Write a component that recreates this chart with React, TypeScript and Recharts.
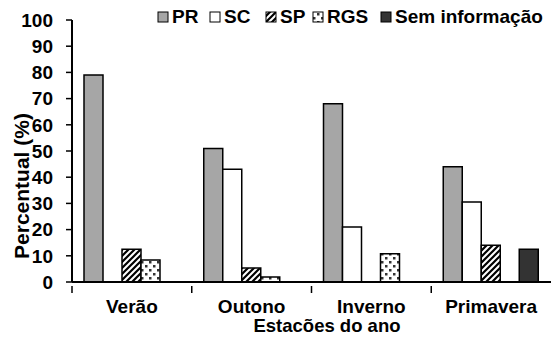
import React from "react";
import { Bar, BarChart, XAxis, YAxis } from "recharts";

const seasons = ["Verão", "Outono", "Inverno", "Primavera"];
const pr = [79, 51, 68, 44];
const sc = [0, 43, 21, 30.5];
const sp = [12.5, 5.3, 0, 14];
const rgs = [8.4, 1.9, 10.8, 0];
const semInfo = [0, 0, 0, 12.5];
const yTicks = [0, 10, 20, 30, 40, 50, 60, 70, 80, 90, 100];

const data = seasons.map((season, i) => ({
  season,
  PR: pr[i],
  SC: sc[i],
  SP: sp[i],
  RGS: rgs[i],
  sem: semInfo[i],
}));

const FONT = "'Liberation Sans', Arial, sans-serif";

const series = [
  { key: "PR", label: "PR", fill: "#a6a6a6", legendX: 158 },
  { key: "SC", label: "SC", fill: "#ffffff", legendX: 210 },
  { key: "SP", label: "SP", fill: "url(#stripes)", legendX: 266 },
  { key: "RGS", label: "RGS", fill: "url(#dots)", legendX: 313 },
  { key: "sem", label: "Sem informação", fill: "#333333", legendX: 381 },
];

const WIDTH = 551;
const HEIGHT = 337;
const LEFT = 72;
const BAND = (WIDTH - LEFT) / seasons.length;

const textStyle = {
  fontFamily: FONT,
  fontWeight: "bold" as const,
  fontSize: 19,
  fill: "#000",
};

// category ticks sit on the band boundaries, labels in the middle
const SeasonTick = (props: any) => {
  const { x, y, payload } = props;
  const left = x - BAND / 2;
  return (
    <g>
      <line x1={left} y1={y - 4} x2={left} y2={y + 3} stroke="#000" strokeWidth={1.5} />
      <text x={x} y={y + 23} textAnchor="middle" {...textStyle}>
        {payload.value}
      </text>
    </g>
  );
};

export default function App() {
  return (
    <div style={{ position: "absolute", left: 0, top: 0, background: "#fff" }}>
      <BarChart
        width={WIDTH}
        height={HEIGHT}
        data={data}
        margin={{ top: 20, right: 0, bottom: 0, left: 0 }}
        barGap={0}
      >
        <defs>
          <pattern id="stripes" patternUnits="userSpaceOnUse" width="6" height="6">
            <rect width="6" height="6" fill="#fff" />
            <path d="M0,6 L6,0 M-2,2 L2,-2 M4,8 L8,4" stroke="#000" strokeWidth="2.2" />
          </pattern>
          <pattern id="dots" patternUnits="userSpaceOnUse" width="8" height="8">
            <rect width="8" height="8" fill="#fff" />
            <rect x="1" y="1" width="2.5" height="2.5" fill="#333" />
            <rect x="5" y="5" width="2.5" height="2.5" fill="#333" />
          </pattern>
        </defs>
        <XAxis
          dataKey="season"
          axisLine={{ stroke: "#000", strokeWidth: 2 }}
          tickLine={false}
          tick={<SeasonTick />}
          interval={0}
          height={55}
        />
        <YAxis
          width={LEFT}
          domain={[0, 100]}
          ticks={yTicks}
          interval={0}
          axisLine={{ stroke: "#000", strokeWidth: 2 }}
          tickLine={{ stroke: "#000", strokeWidth: 1.5 }}
          tickSize={6}
          tickMargin={13}
          tick={textStyle}
          label={{
            content: () => (
              <text
                x={29}
                y={186}
                transform="rotate(-90 29 186)"
                textAnchor="middle"
                {...textStyle}
                fontSize={21}
              >
                Percentual (%)
              </text>
            ),
          }}
        />
        {series.map((s) => (
          <Bar
            key={s.key}
            dataKey={s.key}
            fill={s.fill}
            stroke="#000"
            strokeWidth={1.5}
            barSize={19}
            isAnimationActive={false}
          />
        ))}
        {/* legend row */}
        <g>
          {series.map((s) => (
            <g key={s.key}>
              <rect
                x={s.legendX}
                y={12}
                width={10}
                height={10}
                fill={s.fill}
                stroke="#000"
                strokeWidth={1}
              />
              <text x={s.legendX + 14} y={23} {...textStyle}>
                {s.label}
              </text>
            </g>
          ))}
        </g>
        <text x={327} y={332} textAnchor="middle" {...textStyle} fontSize={18.5}>
          Estacões do ano
        </text>
      </BarChart>
    </div>
  );
}
